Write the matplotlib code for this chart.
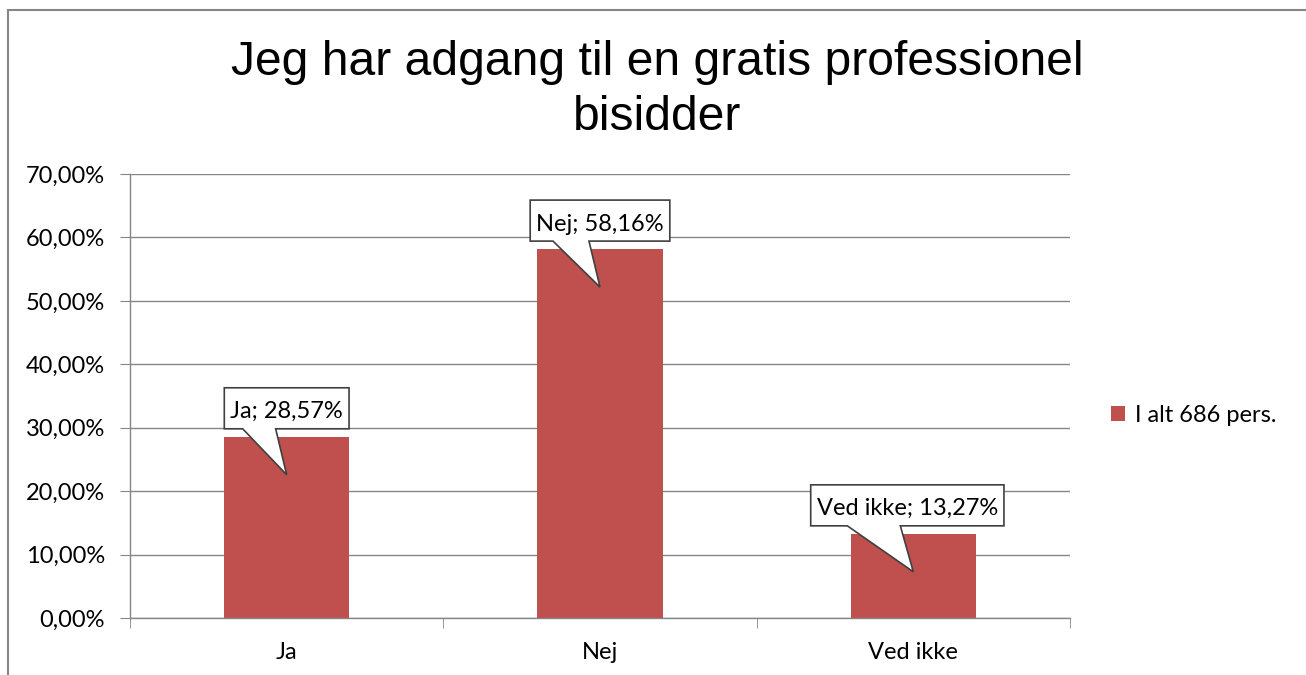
import matplotlib
matplotlib.use("Agg")
import matplotlib.pyplot as plt
import matplotlib.transforms as mtransforms
from matplotlib.patches import Polygon, Rectangle
from matplotlib.ticker import FuncFormatter

# data
categories = ["Ja", "Nej", "Ved ikke"]
values = [28.57, 58.16, 13.27]
series_name = "I alt 686 pers."
title = "Jeg har adgang til en gratis professionel\nbisidder"

# callout layout (pixels): box shift from bar centre, pointer base x relative to tip
box_shift = [0, 0, -6]
pointer_base = [(-44, -11), (-47, -11), (-66, -13)]

bar_color = "#C0504D"
grid_color = "#868686"
body_font = ["Lato", "DejaVu Sans"]
fs = 17

fig = plt.figure(figsize=(13.06, 6.75), dpi=100)
W, H = 1306, 675
ax = fig.add_axes([130 / W, 1 - 618 / H, 940 / W, 444 / H])

x = list(range(len(categories)))
ax.bar(x, values, width=0.4, color=bar_color, zorder=2, label=series_name)

ax.set_xlim(-0.5, len(categories) - 0.5)
ax.set_ylim(0, 70)
ax.set_yticks(range(0, 71, 10))
ax.yaxis.set_major_formatter(FuncFormatter(lambda v, p: f"{v:.2f}".replace(".", ",") + "%"))
ax.set_xticks(x)
ax.set_xticklabels(categories)
ax.set_xticks([-0.5 + i for i in range(len(categories) + 1)], minor=True)
ax.tick_params(axis="x", which="major", length=0, pad=17, labelsize=fs, colors="black")
ax.tick_params(axis="x", which="minor", length=7, color=grid_color, direction="out")
ax.tick_params(axis="y", length=7, color=grid_color, pad=11, labelsize=fs)
for lab in ax.get_xticklabels() + ax.get_yticklabels():
    lab.set_family(body_font)

ax.grid(axis="y", color=grid_color, linewidth=1, zorder=0)
for side in ["top", "right"]:
    ax.spines[side].set_visible(False)
for side in ["left", "bottom"]:
    ax.spines[side].set_color(grid_color)
    ax.spines[side].set_linewidth(1)

# callout labels (speech bubbles), sized in pixels around each bar top
fig.canvas.draw()
renderer = fig.canvas.get_renderer()
for xi, cat, v, dx, pb in zip(x, categories, values, box_shift, pointer_base):
    ax_x, ax_y = ax.transData.transform((xi, v))
    label = f"{cat}; " + f"{v:.2f}".replace(".", ",") + "%"
    txt = fig.text(ax_x + dx, ax_y + 27, label, transform=None,
                   ha="center", va="center_baseline", fontsize=fs, family=body_font, zorder=6)
    bb = txt.get_window_extent(renderer=renderer)
    half = bb.width / 2 + 6
    top = 49
    bottom = 8
    pts = [(dx - half, bottom), (dx - half, top), (dx + half, top), (dx + half, bottom),
           (pb[1], bottom), (0, -38), (pb[0], bottom)]
    poly = Polygon(pts, closed=True, facecolor="white", edgecolor="#404040", linewidth=1.2,
                   transform=mtransforms.Affine2D().translate(ax_x, ax_y), zorder=5)
    fig.add_artist(poly)

leg = fig.legend(loc="center left", bbox_to_anchor=(1111 / W, 1 - 415 / H), frameon=False,
                 prop={"family": body_font, "size": fs}, handlelength=0.6, handleheight=0.6,
                 handletextpad=0.4, borderaxespad=0, borderpad=0)

fig.text(657 / W, 1 - 90 / H, title, ha="center", va="center", fontsize=34.6,
         family="Liberation Sans", linespacing=1.3)

# outer chart border
fig.add_artist(Rectangle((8 / W, -0.1), 1.1, 1 - 10 / H + 0.1, transform=fig.transFigure,
                         fill=False, edgecolor="#868686", linewidth=1.5))

fig.savefig("out.png", dpi=100)
